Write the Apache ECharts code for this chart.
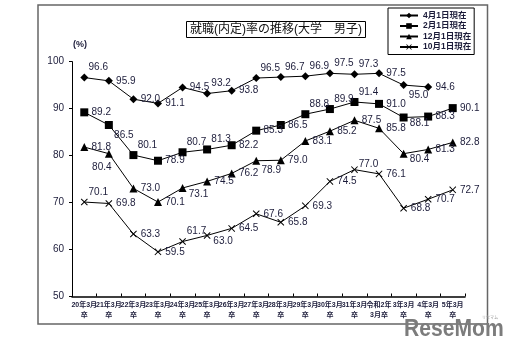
<!DOCTYPE html>
<html>
<head>
<meta charset="utf-8">
<script src="https://cdn.jsdelivr.net/npm/echarts@6/dist/echarts.min.js"></script>
<style>html,body{margin:0;padding:0;background:#fff}#c{width:514px;height:355px}</style>
</head>
<body>
<div id="c"></div>
<script>
const categories = ['20年3月\n卒','21年3月\n卒','22年3月\n卒','23年3月\n卒','24年3月\n卒','25年3月\n卒','26年3月\n卒','27年3月\n卒','28年3月\n卒','29年3月\n卒','30年3月\n卒','31年3月\n卒','令和2年\n3月卒','3年3月\n卒','4年3月\n卒','5年3月\n卒'];
const seriesNames = ['4月1日現在','2月1日現在','12月1日現在','10月1日現在'];
const apr = [96.6,95.9,92.0,91.1,94.5,93.2,93.8,96.5,96.7,96.9,97.5,97.3,97.5,95.0,94.6,null];
const feb = [89.2,86.5,80.1,78.9,80.7,81.3,82.2,85.3,86.5,88.8,89.9,91.4,91.0,88.1,88.3,90.1];
const dec = [81.8,80.4,73.0,70.1,73.1,74.5,76.2,78.9,79.0,83.1,85.2,87.5,85.8,80.4,81.3,82.8];
const oct = [70.1,69.8,63.3,59.5,61.7,63.0,64.5,67.6,65.8,69.3,74.5,77.0,76.1,68.8,70.7,72.7];
const yTicks = [50,60,70,80,90,100];

// label placement codes (layout only)
const aprPos = ['tr','r','r','r','r','tr','r','tr','tr','tr','tr','tr','r','br','r','r'];
const febPos = ['r','br','tr','r','tr','tr','r','r','r','tr','tr','tr','r','dr','r','r'];
const decPos = ['r','b','r','r','dr','r','r','br','r','r','r','r','r','dr','r','r'];
const octPos = ['tr','r','r','r','tr','dr','r','r','r','r','r','ur','r','r','r','r'];
const OFF = {r:[17,0], tr:[14,-10], br:[15,10], dr:[16,6], ur:[14,-5], b:[-7,14]};

const txtColor = '#1c1c3a';
const xPath = 'path://M0,1L1,0L5,4L9,0L10,1L6,5L10,9L9,10L5,6L1,10L0,9L4,5Z';

function mk(name, vals, pos, symbol, size) {
  return {
    name: name, type: 'line', symbol: symbol, symbolSize: size, symbolKeepAspect: true,
    lineStyle: {color: '#000', width: 1},
    itemStyle: {color: '#000', borderColor: '#000', borderWidth: 0},
    label: {show: true, position: 'inside', fontSize: 10, color: txtColor,
      fontFamily: 'Liberation Sans, Arial, sans-serif',
      formatter: p => Number(p.value).toFixed(1)},
    emphasis: {disabled: true},
    data: vals.map((v, i) => v == null ? null : ({value: v, label: {offset: OFF[pos[i]]}})),
    z: 3
  };
}

const chart = echarts.init(document.getElementById('c'), null, {renderer: 'canvas'});
chart.setOption({
  animation: false,
  backgroundColor: '#fff',
  title: {
    text: '就職(内定)率の推移(大学　男子)',
    left: 186, top: 21, padding: [2, 4, 1, 4],
    borderColor: '#000', borderWidth: 1,
    textStyle: {fontSize: 12, fontWeight: 'normal', color: '#111',
      fontFamily: 'Liberation Sans, Noto Sans CJK JP, sans-serif', lineHeight: 14}
  },
  legend: {
    orient: 'vertical', left: 388, top: 8,
    padding: [3, 3, 3, 11], itemGap: 1.5,
    itemWidth: 18, itemHeight: 7,
    borderColor: '#000', borderWidth: 1,
    data: seriesNames,
    textStyle: {fontSize: 8.5, fontWeight: 'bold', color: txtColor, lineHeight: 9,
      fontFamily: 'Liberation Sans, Noto Sans CJK JP, sans-serif'}
  },
  grid: {left: 72, right: 49, top: 61.6, bottom: 58.5, containLabel: false},
  xAxis: {
    type: 'category', data: categories, boundaryGap: true,
    axisLine: {lineStyle: {color: '#000', width: 1.5}},
    axisTick: {show: true, inside: true, length: 3, lineStyle: {color: '#000'}},
    axisLabel: {interval: 0, fontSize: 7, fontWeight: 'bold', color: txtColor, margin: 4, lineHeight: 10,
      fontFamily: 'Liberation Sans, Noto Sans CJK JP, sans-serif'},
    splitLine: {show: false}
  },
  yAxis: {
    type: 'value', min: yTicks[0], max: yTicks[yTicks.length - 1], interval: 10,
    axisLine: {show: true, lineStyle: {color: '#000', width: 1}},
    axisTick: {show: true, length: 3, lineStyle: {color: '#000'}},
    axisLabel: {fontSize: 10, color: txtColor, margin: 8,
      fontFamily: 'Liberation Sans, Arial, sans-serif'},
    splitLine: {show: false}
  },
  graphic: [
    {type: 'rect', shape: {x: 38, y: 5, width: 449.5, height: 319}, z: 0,
      style: {fill: 'none', stroke: '#666', lineWidth: 1.5}, silent: true},
    {type: 'text', left: 73, top: 40, z: 5,
      style: {text: '(%)', fill: txtColor, font: 'bold 9px Liberation Sans, sans-serif'}},
    {type: 'text', x: 404, y: 317, scaleX: 0.88, z: 10,
      style: {text: 'ReseMom', fill: '#7c7c7c',
        font: 'bold 24px "Liberation Sans", sans-serif'}},
    {type: 'text', x: 482, y: 315, z: 10,
      style: {text: 'リセマム', fill: '#999', font: '4px "Noto Sans CJK JP", sans-serif'}}
  ],
  series: [
    mk(seriesNames[0], apr, aprPos, 'diamond', 8),
    mk(seriesNames[1], feb, febPos, 'rect', 8),
    mk(seriesNames[2], dec, decPos, 'triangle', 8),
    mk(seriesNames[3], oct, octPos, xPath, 7)
  ]
});
</script>
</body>
</html>
